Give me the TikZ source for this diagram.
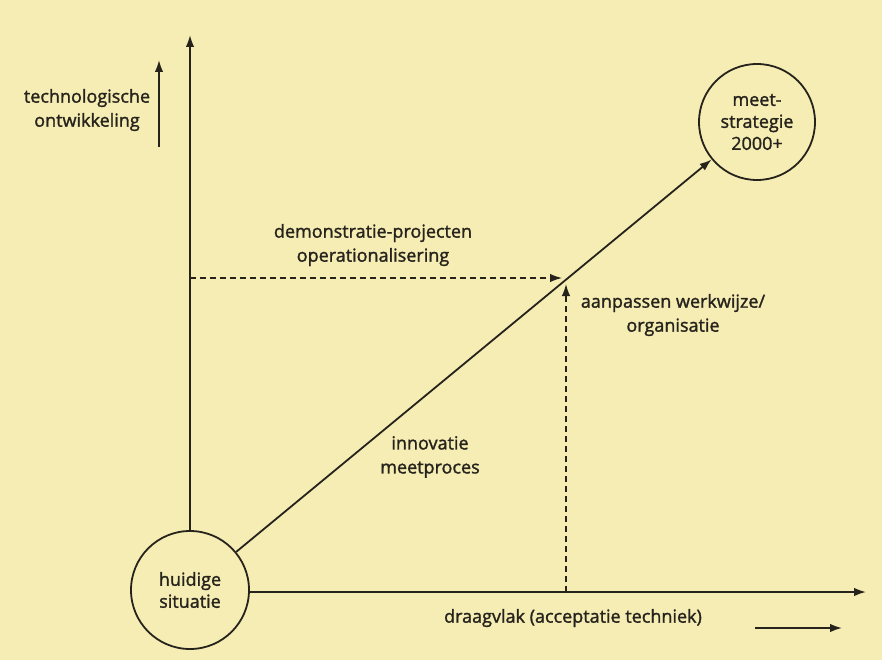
\documentclass[tikz,border=0pt]{standalone}
\usepackage{fontspec}
\setmainfont{Open Sans}[FakeBold=1.5]
\usepackage{xcolor}
\usepackage{tikz}
\usetikzlibrary{arrows.meta}
\definecolor{paper}{RGB}{245,237,180}
\definecolor{ink}{RGB}{38,34,28}

\begin{document}
\begin{tikzpicture}[x=1pt,y=-1pt,line width=1.8pt,draw=ink,text=ink,
  >={Latex[length=12pt,width=8.5pt]},
  state/.style={circle,draw,minimum size=118pt,inner sep=0pt,align=center,font=\fontsize{18}{22}\selectfont},
  lbl/.style={align=center,font=\fontsize{18}{24}\selectfont},
  guide/.style={dash pattern=on 6pt off 4pt,line width=1.4pt}]
\fill[paper] (0,0) rectangle (882,660);
\useasboundingbox (0,0) rectangle (882,660);
\path (190,590) node(now) [state] {huidige\\situatie}
(757,122) node(goal) [state,minimum size=116pt] {meet-\\strategie\\2000+};
\coordinate (ytop) at (190,35);
\coordinate (xend) at (866,592);
\coordinate (hd) at (190,278);
\coordinate (hdend) at (562,278);
\coordinate (vd) at (566,592);
\coordinate (vdend) at (566,284);
\coordinate (ya) at (159,147);
\coordinate (yb) at (159,60);
\coordinate (xa) at (755,628);
\coordinate (xb) at (842,628);
% axes
\draw[->] (now) -- (ytop);
\draw[->] (now.east |- xend) -- (xend);
\draw[->] (now) -- (goal);
\draw[->] (ya) -- (yb);
\draw[->] (xa) -- (xb);
% dashed guides
\draw[guide,->] (hd) -- (hdend);
\draw[guide,->] (vd) -- (vdend);
% labels
\path (87,110) node(tech) [lbl] {technologische\\ontwikkeling}
(373,245) node(demo) [lbl] {demonstratie-projecten\\operationalisering}
(673,315) node(aanp) [lbl] {aanpassen werkwijze/\\organisatie}
(430,457) node(innov) [lbl] {innovatie\\meetproces}
(573,618) node(draag) [lbl] {draagvlak (acceptatie techniek)};
\end{tikzpicture}
\end{document}
